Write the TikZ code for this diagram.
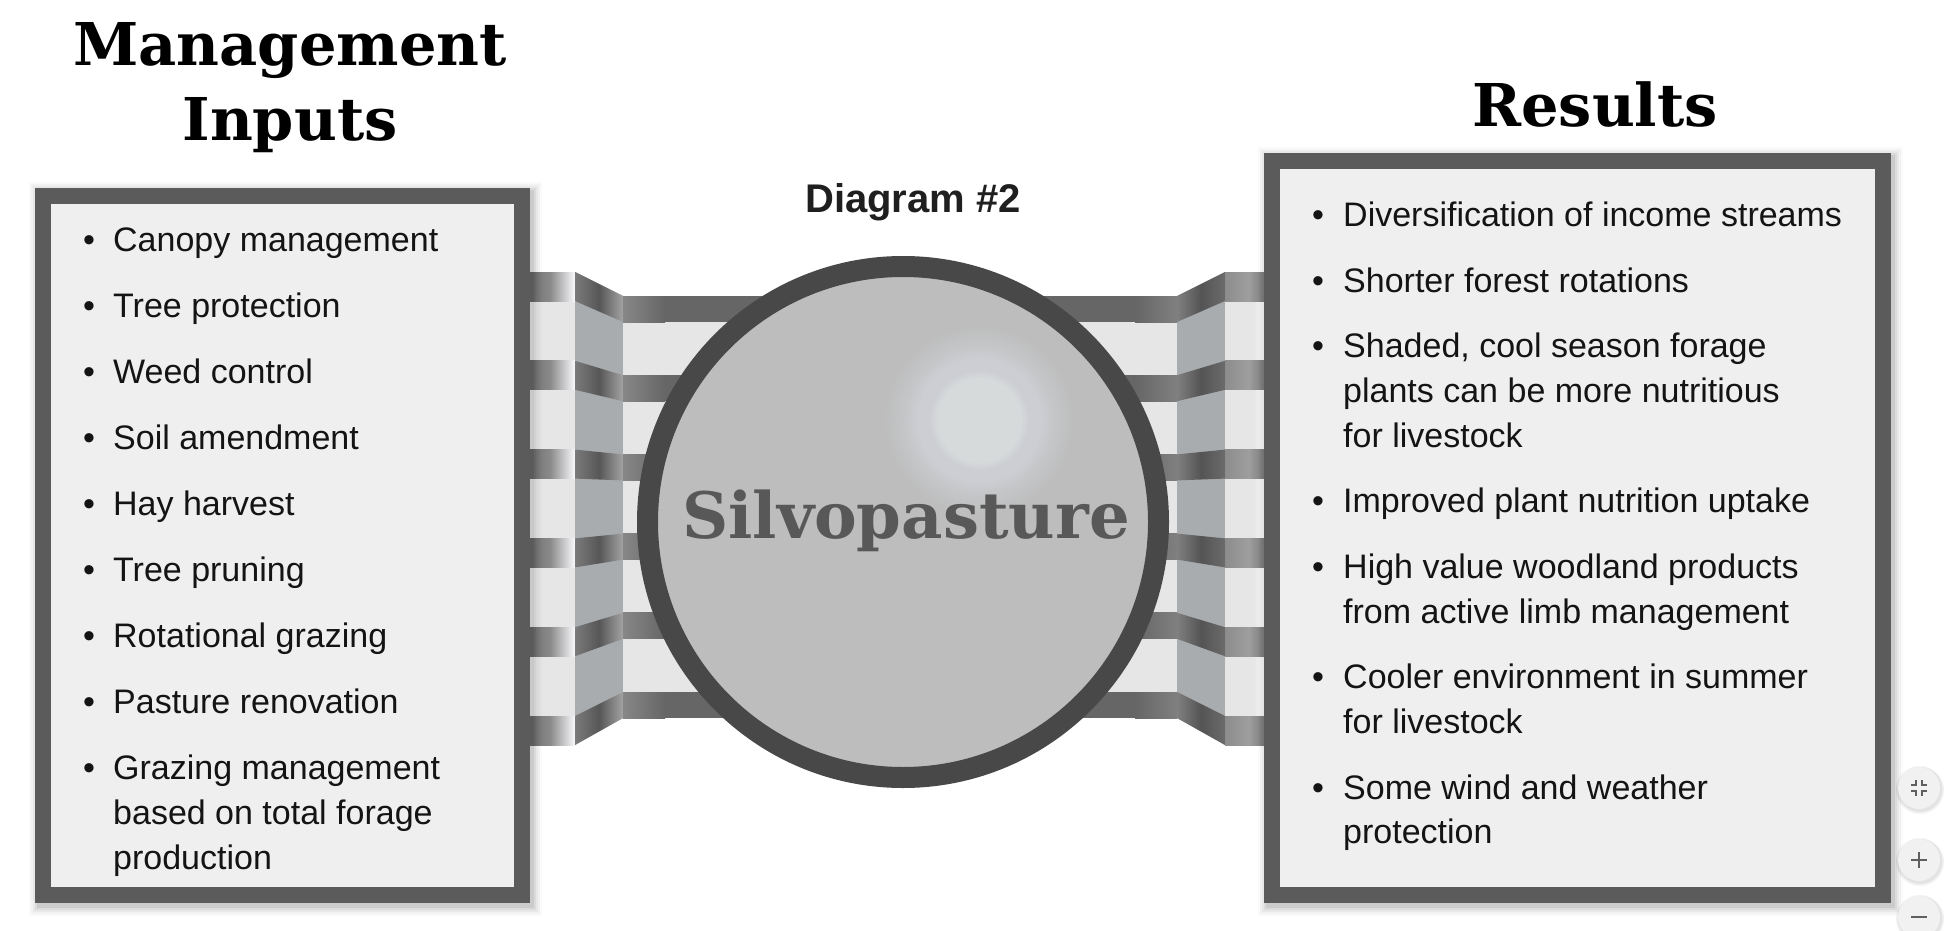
\documentclass[tikz,border=0pt]{standalone}
\usepackage{fontspec}
\newfontfamily\bodyfont{Liberation Sans}
\newfontfamily\headfont{DejaVu Serif}
\definecolor{boxborder}{HTML}{5B5B5B}
\definecolor{boxfill}{HTML}{EFEFEF}
\definecolor{ring}{HTML}{484848}
\definecolor{disk}{HTML}{BDBDBD}
\definecolor{silvo}{HTML}{585858}
\definecolor{bandlight}{HTML}{E6E6E6}
\definecolor{midlight}{HTML}{A8ACAF}
\definecolor{glowA}{HTML}{D6DADB}
\definecolor{glowB}{HTML}{CDCED3}
\definecolor{glowC}{HTML}{C5C7C9}
\definecolor{txt}{HTML}{141414}
\definecolor{btnfill}{HTML}{F1F1F1}
\definecolor{btnicon}{HTML}{5F5F5F}
\pgfdeclareradialshading{glow}{\pgfpoint{0bp}{0bp}}{color(0bp)=(glowA); color(11bp)=(glowA); color(13bp)=(glowB); color(16bp)=(glowB); color(19bp)=(glowC); color(25bp)=(disk); color(50bp)=(disk)}
\begin{document}
\begin{tikzpicture}[x=1pt,y=-1pt,
  panel/.style={draw=boxborder, line width=16pt, fill=boxfill, rectangle, inner sep=0pt, outer sep=0pt},
  itemtext/.style={font=\bodyfont\fontsize{34}{45}\selectfont, text=txt, inner sep=0pt, anchor=base west},
  bul/.style={font=\bodyfont\fontsize{34}{45}\selectfont, text=txt, inner sep=0pt, anchor=base},
  title/.style={font=\headfont\bfseries\fontsize{59}{64}\selectfont, text=black, inner sep=0pt, anchor=base},
  btn/.style={circle, fill=btnfill, minimum size=42pt, inner sep=0pt},
  icon/.style={draw=btnicon, line width=1.6pt}]
\useasboundingbox (0,0) rectangle (1960,931);
\fill[white] (0,0) rectangle (1960,931);

% ---------- striped band ----------
\fill[bandlight] (525,272) rectangle (575,745);
\fill[midlight] (575,272) -- (623,296) -- (623,718) -- (575,745) -- cycle;
\fill[bandlight] (623,296) rectangle (1177,718);
\fill[midlight] (1177,296) -- (1225,272) -- (1225,745) -- (1177,718) -- cycle;
\fill[bandlight] (1225,272) rectangle (1272,745);
\shade[left color=white, right color=bandlight] (530,272) rectangle (540,745);
\shade[left color=bandlight, right color=white] (1254,272) rectangle (1264,745);

\foreach \i in {0,...,5} {
  \pgfmathsetmacro\ot{272+88.8*\i}
  \pgfmathsetmacro\ob{\ot+29}
  \pgfmathsetmacro\it{296+79.2*\i}
  \pgfmathsetmacro\ib{\it+26}
  % left outer
  \shade[left color=black!58, right color=black!38!blue!2, middle color=black!46] (525,\ot) rectangle (575,\ob);
  % left angled
  \shade[left color=black!52, right color=black!36, middle color=black!66] (575,\ot) -- (623,\it) -- (623,\ib) -- (575,\ob) -- cycle;
  % inner horizontal
  \fill[black!60] (623,\it) rectangle (1177,\ib);
  \shade[left color=black!47, right color=black!60] (623,\it) rectangle (665,\ib);
  \shade[left color=black!60, right color=black!50] (1135,\it) rectangle (1177,\ib);
  % right angled
  \shade[left color=black!50, right color=black!58, middle color=black!67] (1177,\it) -- (1225,\ot) -- (1225,\ob) -- (1177,\ib) -- cycle;
  % right outer
  \shade[left color=black!45, right color=black!58, middle color=black!38] (1225,\ot) rectangle (1272,\ob);
}

% ---------- central disk ----------
\node[circle, draw=ring, line width=21pt, fill=disk, minimum size=511pt, inner sep=0pt] (hub) at (903,522) {};
\shade[shading=glow] (979,420) circle[radius=95pt];
\node[font=\headfont\bfseries\fontsize{64}{68}\selectfont, text=silvo, inner sep=0pt, anchor=base] (silvo) at (906,538) {Silvopasture};

% ---------- shadows of panels ----------
\foreach \s/\o in {1/0.07,3/0.05,5/0.04,7/0.03,9/0.02} {
  \fill[black, opacity=\o] (35-\s+3,188-\s+3) rectangle (530+\s+3,903+\s+4);
  \fill[black, opacity=\o] (1264-\s+3,153-\s+3) rectangle (1891+\s+3,903+\s+4);
}

% ---------- panels ----------
\node[panel, minimum width=479pt, minimum height=699pt] (lbox) at (282.5,545.5) {};
\node[panel, minimum width=611pt, minimum height=734pt] (rbox) at (1577.5,528) {};

% ---------- titles ----------
\node[title] (tmg) at (290,66) {Management};
\node[title] (tin) at (290,141) {Inputs};
\node[title] (tres) at (1595,127) {Results};
\node[font=\bodyfont\bfseries\fontsize{40}{44}\selectfont, text=black!88, inner sep=0pt, anchor=base] (dg) at (913,212) {Diagram \#2};

% ---------- left list ----------
\foreach \n/\y/\t in {1/251/Canopy management, 2/317/Tree protection, 3/383/Weed control, 4/449/Soil amendment, 5/515/Hay harvest, 6/581/Tree pruning, 7/647/Rotational grazing, 8/713/Pasture renovation, 9/779/Grazing management} {
  \node[bul] (lb\n) at (89,\y) {\textbullet};
  \node[itemtext] (lt\n) at (113,\y) {\t};
}
\node[itemtext] (lt9b) at (113,824) {based on total forage};
\node[itemtext] (lt9c) at (113,869) {production};

% ---------- right list ----------
\foreach \n/\y/\t in {1/226/Diversification of income streams, 2/292/Shorter forest rotations, 3/357/{Shaded, cool season forage}, 4/512/Improved plant nutrition uptake, 5/578/High value woodland products, 6/688/Cooler environment in summer, 7/799/Some wind and weather} {
  \node[bul] (rb\n) at (1318,\y) {\textbullet};
  \node[itemtext] (rt\n) at (1343,\y) {\t};
}
\node[itemtext] (rt3b) at (1343,402) {plants can be more nutritious};
\node[itemtext] (rt3c) at (1343,447) {for livestock};
\node[itemtext] (rt5b) at (1343,623) {from active limb management};
\node[itemtext] (rt6b) at (1343,733) {for livestock};
\node[itemtext] (rt7b) at (1343,843) {protection};

% ---------- viewer buttons ----------
\foreach \n/\y in {1/788,2/860,3/917} {
  \fill[black, opacity=0.05] (1920,\y+2) circle[radius=24pt];
  \fill[black, opacity=0.06] (1920,\y+1.5) circle[radius=22.5pt];
  \node[btn] (btn\n) at (1919,\y) {};
}
\draw[icon] ([shift={(-8,-3)}]btn1.center) -- ([shift={(-3,-3)}]btn1.center) -- ([shift={(-3,-8)}]btn1.center);
\draw[icon] ([shift={(8,-3)}]btn1.center) -- ([shift={(3,-3)}]btn1.center) -- ([shift={(3,-8)}]btn1.center);
\draw[icon] ([shift={(-8,3)}]btn1.center) -- ([shift={(-3,3)}]btn1.center) -- ([shift={(-3,8)}]btn1.center);
\draw[icon] ([shift={(8,3)}]btn1.center) -- ([shift={(3,3)}]btn1.center) -- ([shift={(3,8)}]btn1.center);
\draw[icon] ([shift={(-8,0)}]btn2.center) -- ([shift={(8,0)}]btn2.center);
\draw[icon] ([shift={(0,-8)}]btn2.center) -- ([shift={(0,8)}]btn2.center);
\draw[icon] ([shift={(-8,0)}]btn3.center) -- ([shift={(8,0)}]btn3.center);
\end{tikzpicture}
\end{document}
